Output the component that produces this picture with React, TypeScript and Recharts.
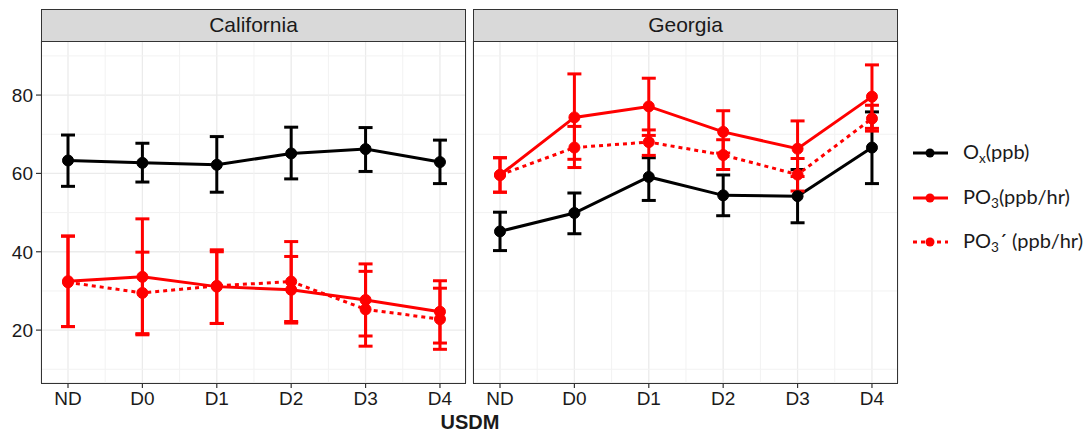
import React from 'react';
import { LineChart, Line, XAxis, YAxis, CartesianGrid, ErrorBar, ReferenceLine } from 'recharts';

const categories = ['ND', 'D0', 'D1', 'D2', 'D3', 'D4'];

// California
const caOx = [63.3, 62.7, 62.2, 65.1, 66.2, 62.9];
const caOxLow = [56.7, 57.8, 55.2, 58.6, 60.5, 57.4];
const caOxHigh = [69.8, 67.7, 69.4, 71.8, 71.7, 68.5];
const caPO3 = [32.5, 33.6, 31.1, 30.3, 27.7, 24.7];
const caPO3Low = [20.9, 18.8, 21.7, 21.8, 18.5, 16.7];
const caPO3High = [44.0, 48.4, 40.5, 38.8, 36.9, 32.6];
const caPO3p = [32.2, 29.5, 31.3, 32.4, 25.3, 22.8];
const caPO3pLow = [20.9, 19.1, 21.7, 22.2, 15.9, 15.1];
const caPO3pHigh = [44.0, 39.9, 40.0, 42.6, 35.0, 30.7];

// Georgia
const gaOx = [45.2, 49.9, 59.1, 54.4, 54.2, 66.6];
const gaOxLow = [40.3, 44.6, 53.1, 49.2, 47.4, 57.4];
const gaOxHigh = [50.1, 55.0, 64.0, 59.6, 61.0, 75.7];
const gaPO3 = [59.6, 74.3, 77.1, 70.6, 66.3, 79.6];
const gaPO3Low = [55.2, 63.6, 69.7, 65.2, 59.2, 71.5];
const gaPO3High = [64.0, 85.4, 84.3, 76.0, 73.4, 87.7];
const gaPO3p = [59.6, 66.6, 68.0, 64.7, 59.7, 74.0];
const gaPO3pLow = [55.2, 61.5, 64.6, 61.0, 55.5, 70.8];
const gaPO3pHigh = [64.0, 72.0, 71.1, 68.6, 63.8, 77.4];

const yTicks = [20, 40, 60, 80];
const yMinor = [10, 30, 50, 70, 90];
const xMinor = [0.5, 1.5, 2.5, 3.5, 4.5];

const BLACK = '#000000';
const RED = '#ff0000';
const FONT = '"Liberation Sans", Arial, sans-serif';

function makeRows(
  ox: number[], oxL: number[], oxH: number[],
  p: number[], pL: number[], pH: number[],
  q: number[], qL: number[], qH: number[],
) {
  return categories.map((c, i) => ({
    x: i,
    cat: c,
    ox: ox[i],
    oxErr: [ox[i] - oxL[i], oxH[i] - ox[i]],
    po3: p[i],
    po3Err: [p[i] - pL[i], pH[i] - p[i]],
    po3p: q[i],
    po3pErr: [q[i] - qL[i], qH[i] - q[i]],
  }));
}

const caRows = makeRows(caOx, caOxLow, caOxHigh, caPO3, caPO3Low, caPO3High, caPO3p, caPO3pLow, caPO3pHigh);
const gaRows = makeRows(gaOx, gaOxLow, gaOxHigh, gaPO3, gaPO3Low, gaPO3High, gaPO3p, gaPO3pLow, gaPO3pHigh);

interface PanelProps {
  rows: ReturnType<typeof makeRows>;
  left: number;
  title: string;
  showY: boolean;
}

function Panel({ rows, left, title, showY }: PanelProps) {
  const tickStyle = { fill: '#1a1a1a', fontSize: 19, fontFamily: FONT };
  return (
    <>
      <div style={{ position: 'absolute', left, top: 0 }}>
        <LineChart width={470} height={433} data={rows} margin={{ top: 41, right: 4, bottom: 0, left: 0 }}>
          <CartesianGrid stroke="#ebebeb" strokeWidth={1.3} />
          {xMinor.map((v) => (
            <ReferenceLine key={'mx' + v} x={v} stroke="#f2f2f2" strokeWidth={1} />
          ))}
          {yMinor.map((v) => (
            <ReferenceLine key={'my' + v} y={v} stroke="#f2f2f2" strokeWidth={1} />
          ))}
          <XAxis
            type="number"
            dataKey="x"
            domain={[-0.363, 5.35]}
            allowDataOverflow
            ticks={[0, 1, 2, 3, 4, 5]}
            tickFormatter={(i) => categories[i]}
            interval={0}
            height={50}
            tickSize={5}
            tickMargin={4}
            axisLine={false}
            tickLine={{ stroke: '#333', strokeWidth: 1.2 }}
            tick={tickStyle}
          />
          <YAxis
            type="number"
            domain={[6.5, 93.8]}
            allowDataOverflow
            ticks={yTicks}
            width={41}
            tickSize={5}
            tickMargin={3}
            axisLine={false}
            tickLine={showY ? { stroke: '#333', strokeWidth: 1.2 } : false}
            tick={showY ? tickStyle : false}
          />
          <Line
            dataKey="ox"
            stroke={BLACK}
            strokeWidth={3}
            dot={{ r: 5.5, fill: BLACK, stroke: BLACK, strokeWidth: 1 }}
            isAnimationActive={false}
          >
            <ErrorBar dataKey="oxErr" width={7} strokeWidth={3} stroke={BLACK} />
          </Line>
          <Line
            dataKey="po3"
            stroke={RED}
            strokeWidth={3}
            dot={{ r: 5.5, fill: RED, stroke: RED, strokeWidth: 1 }}
            isAnimationActive={false}
          >
            <ErrorBar dataKey="po3Err" width={7} strokeWidth={3} stroke={RED} />
          </Line>
          <Line
            dataKey="po3p"
            stroke={RED}
            strokeWidth={3}
            strokeDasharray="4 4"
            dot={{ r: 5.5, fill: RED, stroke: RED, strokeWidth: 1, strokeDasharray: '' }}
            isAnimationActive={false}
          >
            <ErrorBar dataKey="po3pErr" width={7} strokeWidth={3} stroke={RED} />
          </Line>
        </LineChart>
      </div>
      <div
        style={{
          position: 'absolute', left: left + 41, top: 9, width: 425, height: 33,
          boxSizing: 'border-box', background: '#d9d9d9', border: '1.3px solid #333',
          fontFamily: FONT, fontSize: 21, color: '#1a1a1a', textAlign: 'center', lineHeight: '30px',
        }}
      >
        {title}
      </div>
      <div
        style={{
          position: 'absolute', left: left + 41, top: 41, width: 425, height: 343,
          boxSizing: 'border-box', border: '1.3px solid #333', pointerEvents: 'none',
        }}
      />
    </>
  );
}

function LegendItem({ color, dashed, children, top }: { color: string; dashed?: boolean; children: React.ReactNode; top: number }) {
  return (
    <div style={{ position: 'absolute', left: 910, top, height: 24, display: 'flex', alignItems: 'center' }}>
      <svg width={42} height={24}>
        <line x1={3} y1={12} x2={38} y2={12} stroke={color} strokeWidth={3} strokeDasharray={dashed ? '4 4' : undefined} />
        <circle cx={20} cy={12} r={4.5} fill={color} />
      </svg>
      <span style={{ marginLeft: 11, fontFamily: 'Lato, sans-serif', fontSize: 20, color: '#1a1a1a', whiteSpace: 'nowrap' }}>
        {children}
      </span>
    </div>
  );
}

const sub = { fontSize: '68%', verticalAlign: '-0.3em' } as const;

export default function App() {
  return (
    <div style={{ position: 'absolute', left: 0, top: 0, width: 1087, height: 433, background: '#fff' }}>
      <Panel rows={caRows} left={0} title="California" showY />
      <Panel rows={gaRows} left={432} title="Georgia" showY={false} />
      <LegendItem color={BLACK} top={141}>
        O<span style={sub}>x</span>(ppb)
      </LegendItem>
      <LegendItem color={RED} top={186}>
        PO<span style={sub}>3</span>(ppb/hr)
      </LegendItem>
      <LegendItem color={RED} dashed top={230}>
        PO<span style={sub}>3</span>´ (ppb/hr)
      </LegendItem>
      <div
        style={{
          position: 'absolute', left: 370, top: 411, width: 200, textAlign: 'center',
          fontFamily: FONT, fontWeight: 'bold', fontSize: 20, lineHeight: '22px', color: '#1a1a1a',
        }}
      >
        USDM
      </div>
    </div>
  );
}
